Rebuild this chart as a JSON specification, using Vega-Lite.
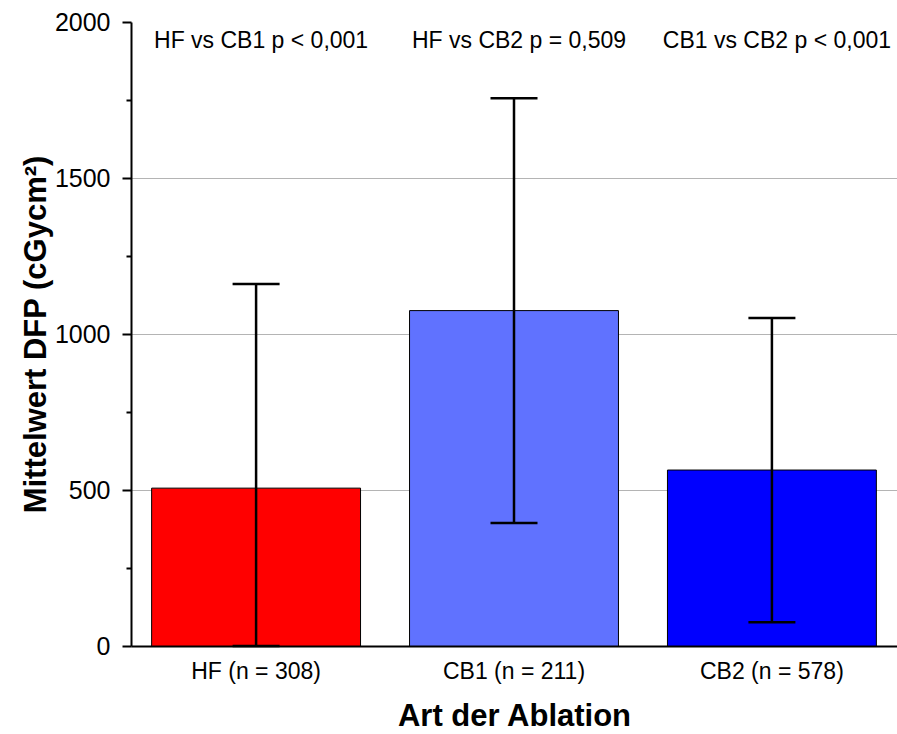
{
  "$schema": "https://vega.github.io/schema/vega-lite/v6.json",
  "width": 766,
  "height": 624,
  "autosize": {"type": "none"},
  "padding": {"left": 131, "top": 22, "right": 0, "bottom": 88},
  "background": "white",
  "config": {"view": {"stroke": null}, "font": "Liberation Sans"},
  "datasets": {
    "bars": [
      {"group": "HF (n = 308)", "mean": 506, "lo": 0, "hi": 1160},
      {"group": "CB1 (n = 211)", "mean": 1075, "lo": 394, "hi": 1756},
      {"group": "CB2 (n = 578)", "mean": 564, "lo": 76, "hi": 1051}
    ],
    "notes": [
      {"group": "HF (n = 308)", "label": "HF vs CB1 p < 0,001"},
      {"group": "CB1 (n = 211)", "label": "HF vs CB2 p = 0,509"},
      {"group": "CB2 (n = 578)", "label": "CB1 vs CB2 p < 0,001"}
    ]
  },
  "layer": [
    {
      "data": {"name": "bars"},
      "mark": {"type": "bar", "stroke": "black", "strokeWidth": 1},
      "encoding": {
        "x": {
          "field": "group", "type": "nominal", "sort": null,
          "scale": {"paddingInner": 0.19, "paddingOuter": 0.08},
          "axis": {
            "title": "Art der Ablation", "titleFontSize": 31, "titleFontWeight": "bold", "titleColor": "black",
            "titlePadding": 18, "labelFontSize": 23, "labelColor": "black", "labelPadding": 14, "labelAngle": 0,
            "ticks": false, "domainColor": "black", "domainWidth": 2
          }
        },
        "y": {
          "field": "mean", "type": "quantitative",
          "scale": {"domain": [0, 2000], "nice": false},
          "axis": {
            "title": "Mittelwert DFP (cGycm²)", "titleFontSize": 31, "titleFontWeight": "bold", "titleColor": "black",
            "titlePadding": 2,
            "values": [0, 250, 500, 750, 1000, 1250, 1500, 1750, 2000],
            "labelExpr": "datum.value % 500 === 0 ? datum.label : ''",
            "format": "d",
            "labelFontSize": 25, "labelColor": "black", "labelPadding": 12,
            "tickSize": {"condition": {"test": "datum.value % 500 === 0", "value": 9}, "value": 5},
            "tickColor": "black", "tickWidth": 2,
            "domainColor": "black", "domainWidth": 2,
            "grid": true,
            "gridColor": "#b4b4b4",
            "gridOpacity": {"condition": {"test": "datum.value % 500 === 0 && datum.value > 0 && datum.value < 2000", "value": 1}, "value": 0}
          }
        },
        "fill": {
          "field": "group", "type": "nominal",
          "scale": {"domain": ["HF (n = 308)", "CB1 (n = 211)", "CB2 (n = 578)"], "range": ["#ff0000", "#6072ff", "#0000ff"]},
          "legend": null
        }
      }
    },
    {
      "data": {"name": "bars"},
      "mark": {"type": "rule", "color": "black", "strokeWidth": 2.5},
      "encoding": {
        "x": {"field": "group", "type": "nominal", "sort": null},
        "y": {"field": "lo", "type": "quantitative"},
        "y2": {"field": "hi"}
      }
    },
    {
      "data": {"name": "bars"},
      "mark": {"type": "tick", "color": "black", "thickness": 2.5, "size": 47, "opacity": 1},
      "encoding": {
        "x": {"field": "group", "type": "nominal", "sort": null},
        "y": {"field": "hi", "type": "quantitative"}
      }
    },
    {
      "data": {"name": "bars"},
      "mark": {"type": "tick", "color": "black", "thickness": 2.5, "size": 47, "opacity": 1},
      "encoding": {
        "x": {"field": "group", "type": "nominal", "sort": null},
        "y": {"field": "lo", "type": "quantitative"}
      }
    },
    {
      "data": {"name": "notes"},
      "mark": {"type": "text", "fontSize": 23, "color": "black", "dx": 5, "baseline": "middle"},
      "encoding": {
        "x": {"field": "group", "type": "nominal", "sort": null},
        "y": {"datum": 1940, "type": "quantitative"},
        "text": {"field": "label"}
      }
    }
  ]
}
